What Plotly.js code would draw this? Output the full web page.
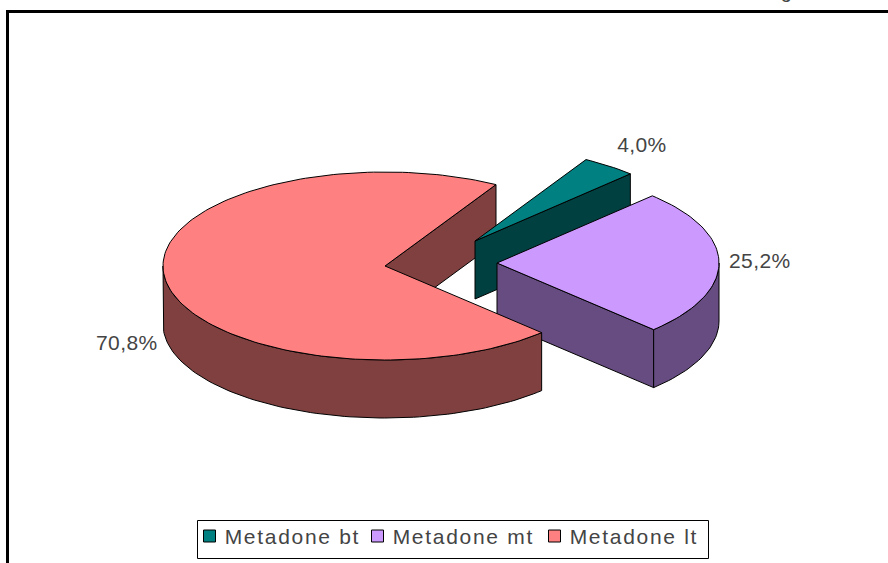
<!DOCTYPE html>
<html>
<head>
<meta charset="utf-8">
<script src="https://cdn.plot.ly/plotly-3.0.1.min.js"></script>
<style>
html,body{margin:0;padding:0;background:#fff;overflow:hidden}
#chart{width:888px;height:563px}
.annotation text{letter-spacing:0.4px}
.annotation[data-index="3"] text,.annotation[data-index="4"] text,.annotation[data-index="5"] text{letter-spacing:1.7px}
</style>
</head>
<body>
<div id="chart"></div>
<script>
// Chart data
const categories = ['Metadone bt', 'Metadone mt', 'Metadone lt'];
const shares = [4.0, 25.2, 70.8];
const topColors = ['#008080', '#CC99FF', '#FF8080'];
const sideColors = ['#004040', '#664C80', '#804040'];

// Projection of the tilted pie, in chart pixels
const RX = 222, RY = 94, DEPTH = 58, START = 30;
const centers = [[475, 241], [497, 263], [385, 266]];
const labelAt = [[642, 144], [760, 260], [127, 342]];

const pt = (c, deg, drop) => [
  c[0] + RX * Math.sin(deg * Math.PI / 180),
  c[1] - RY * Math.cos(deg * Math.PI / 180) + (drop || 0)
];
const arc = (c, a, b, drop) => {
  const out = [], n = Math.max(2, Math.ceil(Math.abs(b - a) / 1.5));
  for (let i = 0; i <= n; i++) out.push(pt(c, a + (b - a) * i / n, drop));
  return out;
};
const poly = (points, color, name) => ({
  type: 'scatter', mode: 'lines', name: name, showlegend: false, hoverinfo: 'skip',
  x: points.map(p => p[0]), y: points.map(p => p[1]),
  fill: 'toself', fillcolor: color,
  line: {color: '#000', width: 1}
});

// Slice angles derived from the shares
let run = START;
const spans = shares.map(s => { const a = run; run += s * 3.6; return [a, run]; });

const traces = [];
// Red cut wall (furthest back)
{
  const c = centers[2], a = spans[2][1];
  traces.push(poly([[c[0], c[1]], pt(c, a), pt(c, a, DEPTH), [c[0], c[1] + DEPTH], [c[0], c[1]]], sideColors[2], categories[2]));
}
// Teal wall and top
{
  const c = centers[0], [a, b] = spans[0];
  traces.push(poly([[c[0], c[1]], pt(c, b), pt(c, b, DEPTH), [c[0], c[1] + DEPTH], [c[0], c[1]]], sideColors[0], categories[0]));
  traces.push(poly([[c[0], c[1]], ...arc(c, a, b), [c[0], c[1]]], topColors[0], categories[0]));
}
// Purple walls and top
{
  const c = centers[1], [a, b] = spans[1];
  traces.push(poly([[c[0], c[1]], pt(c, b), pt(c, b, DEPTH), [c[0], c[1] + DEPTH], [c[0], c[1]]], sideColors[1], categories[1]));
  traces.push(poly([...arc(c, 90, b), ...arc(c, b, 90, DEPTH), pt(c, 90)], sideColors[1], categories[1]));
  traces.push(poly([[c[0], c[1]], ...arc(c, a, b), [c[0], c[1]]], topColors[1], categories[1]));
}
// Red outer wall and top
{
  const c = centers[2], [a, b] = spans[2];
  traces.push(poly([...arc(c, a, 270), ...arc(c, 270, a, DEPTH), pt(c, a)], sideColors[2], categories[2]));
  traces.push(poly([[c[0], c[1]], ...arc(c, a, b), [c[0], c[1]]], topColors[2], categories[2]));
}
// Legend swatches
const swatchX = [209.5, 377.5, 554.5], swatchY = 536, textX = [232, 400, 577];
traces.push({
  type: 'scatter', mode: 'markers', showlegend: false, hoverinfo: 'skip',
  x: swatchX, y: categories.map(() => swatchY),
  marker: {symbol: 'square', size: 12, color: topColors, line: {color: '#000', width: 1}}
});

const font = {family: '"Liberation Sans", Arial, sans-serif', size: 21, color: '#444'};
const annotations = shares.map((s, i) => ({
  x: labelAt[i][0], y: labelAt[i][1], xref: 'x', yref: 'y', showarrow: false,
  text: s.toFixed(1).replace('.', ',') + '%', font: font
}));
categories.forEach((c, i) => annotations.push({
  x: textX[i], y: swatchY, xref: 'x', yref: 'y', xanchor: 'left', showarrow: false,
  text: c, font: font
}));
annotations.push({x: 786, y: 3, xref: 'x', yref: 'y', yanchor: 'bottom', showarrow: false, text: 'g',
  font: {family: font.family, size: 20, color: '#444'}, borderpad: 0});

const layout = {
  width: 888, height: 563, margin: {l: 0, r: 0, t: 0, b: 0},
  paper_bgcolor: '#fff', plot_bgcolor: '#fff', showlegend: false,
  xaxis: {range: [0, 888], visible: false, fixedrange: true},
  yaxis: {range: [563, 0], visible: false, fixedrange: true},
  annotations: annotations,
  shapes: [
    {type: 'path', path: 'M 7.5 563 L 7.5 11.5 L 888 11.5', line: {color: '#000', width: 3}, layer: 'below'},
    {type: 'rect', x0: 197.5, x1: 708.5, y0: 520.5, y1: 558.5, line: {color: '#000', width: 1}, fillcolor: '#fff', layer: 'below'}
  ]
};
Plotly.newPlot('chart', traces, layout, {displayModeBar: false, staticPlot: true});
</script>
</body>
</html>
